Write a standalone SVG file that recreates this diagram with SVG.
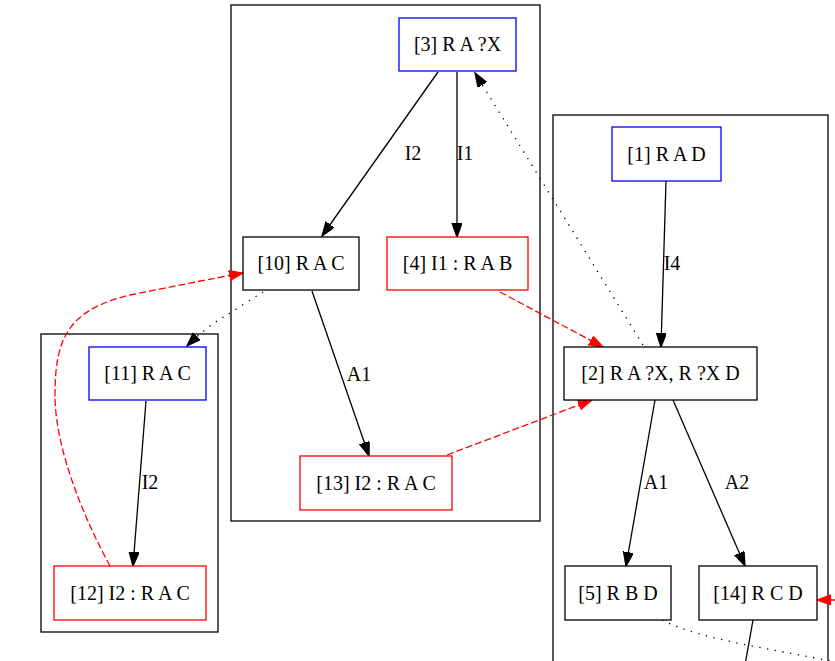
<svg xmlns="http://www.w3.org/2000/svg" width="835" height="661" viewBox="0 0 835 661">
<style>
text{font-family:"Liberation Serif","Times New Roman",serif;font-size:20px;fill:#000;text-anchor:middle}
.cl{fill:none;stroke:#000;stroke-width:1.3}
.nb{fill:#fff;stroke:#000;stroke-width:1.3}
.nu{fill:#fff;stroke:#0000ff;stroke-width:1.3}
.nr{fill:#fff;stroke:#ff0000;stroke-width:1.3}
.e{fill:none;stroke:#000;stroke-width:1.3}
.dot{fill:none;stroke:#000;stroke-width:1.3;stroke-dasharray:1.3,6.5}
.red{fill:none;stroke:#ff0000;stroke-width:1.3;stroke-dasharray:7,3}
</style>
<defs>
<marker id="ab" markerUnits="userSpaceOnUse" markerWidth="16" markerHeight="12" refX="14" refY="5" orient="auto"><path d="M0,0 L14,5 L0,10 z" fill="#000" stroke="#000" stroke-width="1.3"/></marker>
<marker id="ar" markerUnits="userSpaceOnUse" markerWidth="16" markerHeight="12" refX="14" refY="5" orient="auto"><path d="M0,0 L14,5 L0,10 z" fill="#ff0000" stroke="#ff0000" stroke-width="1.3"/></marker>
</defs>
<rect width="835" height="661" fill="#fff"/>
<g id="clusters">
<rect class="cl" x="231" y="5" width="309" height="516"/>
<rect class="cl" x="553" y="115" width="275" height="560"/>
<rect class="cl" x="41" y="334" width="177" height="298"/>
</g>
<g id="connectors">
<path class="e" d="M438,72 L322,236" marker-end="url(#ab)"/>
<text x="413" y="160">I2</text>
<path class="e" d="M457,72 L457,237" marker-end="url(#ab)"/>
<text x="465" y="160">I1</text>
<path class="e" d="M666,181 L661,347" marker-end="url(#ab)"/>
<text x="672" y="270">I4</text>
<path class="dot" d="M643,345 L475,73" marker-end="url(#ab)"/>
<path class="dot" d="M263,292 C250,300 235,310 222,318 C210,325 198,335 187,346" marker-end="url(#ab)"/>
<path class="e" d="M312,291 L369,456" marker-end="url(#ab)"/>
<text x="359" y="381">A1</text>
<path class="red" d="M500,292 L603,347" marker-end="url(#ar)"/>
<path class="red" d="M447,455 L592,400" marker-end="url(#ar)"/>
<path class="red" d="M110,566 C85,520 55,450 55,395 C55,335 70,310 130,295 C170,287 210,279 243,273" marker-end="url(#ar)"/>
<path class="e" d="M146,401 L133,566" marker-end="url(#ab)"/>
<text x="150" y="489">I2</text>
<path class="e" d="M655,400 L626,566" marker-end="url(#ab)"/>
<text x="656" y="489">A1</text>
<path class="e" d="M673,400 L745,566" marker-end="url(#ab)"/>
<text x="737" y="489">A2</text>
<path class="dot" d="M662,620 C700,640 780,650 835,662"/>
<path class="e" d="M753,620 L745,665"/>
<path class="red" d="M845,600 L817,600" marker-end="url(#ar)"/>
</g>
<g id="n3"><rect class="nu" x="399" y="18" width="117" height="53"/><text x="457.5" y="51">[3] R A ?X</text></g>
<g id="n10"><rect class="nb" x="243" y="237" width="116" height="53"/><text x="301" y="270">[10] R A C</text></g>
<g id="n4"><rect class="nr" x="387" y="237" width="141" height="53"/><text x="457.5" y="270">[4] I1 : R A B</text></g>
<g id="n1"><rect class="nu" x="612" y="127" width="109" height="54"/><text x="666.5" y="161">[1] R A D</text></g>
<g id="n2"><rect class="nb" x="564" y="347" width="193" height="53"/><text x="660.5" y="380">[2] R A ?X, R ?X D</text></g>
<g id="n5"><rect class="nb" x="565" y="566" width="106" height="54"/><text x="618" y="600">[5] R B D</text></g>
<g id="n14"><rect class="nb" x="699" y="566" width="118" height="54"/><text x="758" y="600">[14] R C D</text></g>
<g id="n11"><rect class="nu" x="89" y="347" width="117" height="53"/><text x="147.5" y="380">[11] R A C</text></g>
<g id="n12"><rect class="nr" x="54" y="566" width="152" height="54"/><text x="130" y="600">[12] I2 : R A C</text></g>
<g id="n13"><rect class="nr" x="300" y="456" width="152" height="54"/><text x="376" y="490">[13] I2 : R A C</text></g>
</svg>
